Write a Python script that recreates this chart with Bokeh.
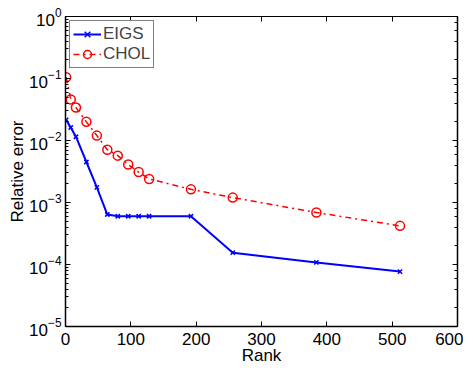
from bokeh.plotting import figure
from bokeh.embed import file_html
from bokeh.resources import INLINE
from bokeh.models import LogAxis, LinearAxis, FixedTicker, Legend, LegendItem, Range1d, LogTicker

rank = [1, 8, 16, 32, 48, 64, 80, 96, 112, 128, 192, 256, 384, 512]
eigs = [0.0215, 0.0162, 0.0115, 0.0045, 0.00175, 0.00064, 0.00060, 0.00060, 0.00060, 0.00060, 0.00060, 0.000155, 0.000108, 0.000077]
chol = [0.105, 0.046, 0.034, 0.020, 0.012, 0.0071, 0.0057, 0.0041, 0.0031, 0.0024, 0.00163, 0.00120, 0.00069, 0.00042]
xticks = [0, 100, 200, 300, 400, 500, 600]

FONT = "Liberation Sans"
FS = "17px"

p = figure(y_axis_type="log", output_backend="svg", toolbar_location=None,
           x_range=Range1d(0, 600), y_range=Range1d(1e-5, 1),
           frame_width=392, frame_height=310,
           min_border_left=65, min_border_top=16, min_border_right=6, min_border_bottom=10)
p.grid.visible = False
p.outline_line_color = "black"
p.outline_line_width = 1

xa = p.xaxis[0]
xa.ticker = FixedTicker(ticks=xticks)
ya = p.yaxis[0]
for ax in (xa, ya):
    ax.major_tick_in = 5
    ax.major_tick_out = 0
    ax.minor_tick_in = 3
    ax.minor_tick_out = 0
    ax.major_label_text_font = FONT
    ax.major_label_text_font_size = FS
    ax.major_label_text_color = "black"
    ax.axis_label_text_font = FONT
    ax.axis_label_text_font_size = FS
    ax.axis_label_text_font_style = "normal"
    ax.axis_label_text_color = "black"
    ax.axis_line_color = "black"
    ax.axis_line_width = 1.5
xa.minor_tick_line_color = None
xa.axis_label = "Rank"
xa.axis_label_standoff = -2
xa.major_label_standoff = 6
ya.axis_label = "Relative error"
ya.axis_label_standoff = -1
ya.major_label_standoff = 4

top = LinearAxis(ticker=FixedTicker(ticks=xticks), major_label_text_font_size="1px",
                 major_label_text_color=None,
                 major_tick_in=5, major_tick_out=0, minor_tick_line_color=None, axis_line_color="black")
right = LogAxis(ticker=LogTicker(), major_label_text_font_size="1px", major_label_text_color=None,
                major_tick_in=5, major_tick_out=0, minor_tick_in=3, minor_tick_out=0, axis_line_color="black",
                axis_line_width=1.5)
top.major_label_standoff = 0
right.major_label_standoff = 0
p.add_layout(top, "above")
p.add_layout(right, "right")

l1 = p.line(rank, eigs, line_color="blue", line_width=2)
m1 = p.scatter(rank, eigs, marker="x", size=6, line_color="blue", line_width=1.5)
l2 = p.line(rank, chol, line_color="red", line_width=1.5, line_dash="dashdot")
m2 = p.scatter(rank, chol, marker="circle", size=9, line_color="red", fill_color=None, line_width=1.5)

legend = Legend(items=[LegendItem(label="EIGS", renderers=[l1, m1]),
                       LegendItem(label="CHOL", renderers=[l2, m2])],
                location="top_left", label_text_font=FONT, label_text_font_size=FS,
                border_line_color="black", border_line_width=1, background_fill_alpha=1,
                glyph_width=28, glyph_height=20, label_standoff=2, spacing=0,
                padding=3, margin=4, label_height=20)
p.add_layout(legend)

open("out.html", "w").write(file_html(p, INLINE))
